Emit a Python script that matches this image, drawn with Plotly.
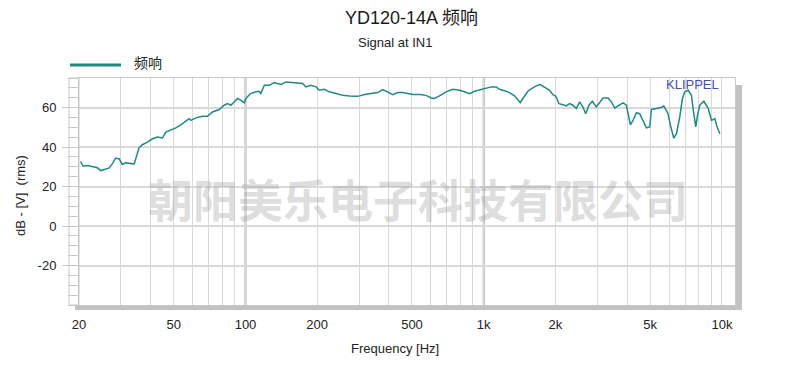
import math
import plotly.graph_objects as go

# ---- data ----
freq_hz = [20.3, 20.8, 21.7, 22.7, 23.9, 24.7, 25.9, 26.7, 27.6, 28.5,
           29.5, 30.4, 31.4, 32.4, 33.5, 34.1, 35.7, 36.9, 38.7, 40.7,
           42.7, 44.8, 46.3, 48.6, 51.0, 53.5, 56.2, 58.0, 59.0, 61.9,
           66.0, 69.2, 72.7, 77.5, 81.4, 84.0, 86.8, 89.7, 92.6, 95.7,
           98.8, 100.4, 105, 111, 114, 116, 120, 126, 132, 136,
           141, 148, 155, 163, 174, 179, 188, 198, 204, 214,
           225, 240, 256, 273, 296, 316, 337, 359, 377, 395,
           415, 436, 457, 480, 504, 537, 573, 602, 621, 652,
           696, 742, 791, 830, 872, 915, 976, 1025, 1075, 1129,
           1165, 1223, 1284, 1347, 1391, 1424, 1460, 1533, 1608, 1662,
           1728, 1801, 1891, 1952, 2004, 2029, 2069, 2151, 2222, 2294,
           2369, 2448, 2528, 2610, 2679, 2766, 2858, 2970, 3068, 3168,
           3325, 3436, 3548, 3698, 3844, 3972, 4034, 4128, 4234, 4375,
           4518, 4666, 4822, 4977, 5060, 5311, 5574, 5698, 5942, 6081,
           6279, 6445, 6654, 6830, 6984, 7211, 7453, 7568, 7768, 7898,
           8075, 8395, 8750, 9044, 9340, 9548, 9802]

level_db = [32.7, 30.3, 30.7, 30.1, 29.5, 28.1, 29.0, 29.3, 31.5, 34.4,
            34.0, 31.2, 32.0, 31.9, 31.9, 31.5, 39.5, 41.2, 42.5, 44.2,
            45.1, 44.6, 47.6, 48.5, 49.7, 51.3, 53.0, 54.4, 53.5, 54.8,
            55.6, 55.6, 57.8, 59.0, 61.2, 62.0, 61.2, 62.9, 64.6, 63.7,
            62.4, 64.6, 67.1, 68.0, 68.3, 67.1, 71.3, 71.3, 72.7, 72.2,
            71.7, 73.0, 72.7, 72.7, 72.2, 70.5, 71.3, 70.5, 68.8, 69.3,
            68.0, 67.1, 66.2, 65.9, 65.7, 66.6, 67.3, 67.6, 69.1, 68.0,
            66.6, 67.6, 67.6, 67.1, 66.6, 66.6, 66.2, 64.9, 64.6, 65.9,
            68.0, 69.3, 68.8, 68.0, 67.1, 68.3, 69.1, 70.0, 70.5, 70.5,
            69.3, 68.5, 67.6, 66.0, 63.7, 62.5, 64.6, 68.3, 70.0, 71.0,
            71.7, 70.5, 68.8, 66.6, 65.9, 64.6, 62.0, 61.5, 60.9, 62.0,
            61.2, 59.5, 62.9, 60.3, 56.9, 61.2, 63.2, 60.3, 62.9, 64.9,
            64.9, 62.9, 59.8, 61.2, 62.4, 61.2, 57.8, 51.3, 53.5, 57.4,
            56.9, 53.5, 49.7, 50.2, 59.1, 59.5, 60.0, 60.9, 56.9, 51.0,
            44.6, 46.8, 55.3, 64.6, 68.0, 68.8, 66.2, 59.5, 50.2, 56.1,
            61.2, 63.2, 59.8, 53.5, 54.4, 50.2, 46.8]

x_tick_vals = [20, 50, 100, 200, 500, 1000, 2000, 5000, 10000]
x_tick_text = ["20", "50", "100", "200", "500", "1k", "2k", "5k", "10k"]
x_minor_vals = [30, 40, 60, 70, 80, 90, 300, 400, 600, 700, 800, 900,
                3000, 4000, 6000, 7000, 8000, 9000]
x_decade_vals = [100, 1000]
y_tick_vals = [-20, 0, 20, 40, 60]
y_tick_text = ["-20", "0", "20", "40", "60"]

series_name = "频响"
title_text = "YD120-14A 频响"
subtitle_text = "Signal at IN1"
watermark_text = "朝阳美乐电子科技有限公司"

# ---- layout geometry (pixels) ----
W, H = 790, 390
L, R, T, B = 79, 55, 78, 85
PW, PH = W - L - R, H - T - B


def px(x):
    return (x - L) / PW


def py(y):
    return (H - B - y) / PH


FONT = "Liberation Sans, Arial, Noto Sans CJK SC, sans-serif"
GRID = "#d9d9d9"
FRAME = "#c8c8c8"
TEAL = "#1f8a82"

fig = go.Figure()
fig.add_trace(go.Scatter(x=freq_hz, y=level_db, mode="lines", name=series_name,
                         line=dict(color=TEAL, width=1.5), showlegend=False))

shapes = []
for v in x_decade_vals:
    shapes.append(dict(type="line", xref="x", yref="paper", x0=v, x1=v, y0=0, y1=1,
                       line=dict(color="#ababab", width=2), layer="below"))
# left tick strip
shapes.append(dict(type="rect", xref="paper", yref="paper", x0=px(69), x1=px(79),
                   y0=py(305), y1=py(78), line=dict(color=FRAME, width=1)))
# drop shadow right & bottom
shapes.append(dict(type="rect", xref="paper", yref="paper", x0=px(736), x1=px(742),
                   y0=py(310), y1=py(85), fillcolor="#c2c2c2", line=dict(width=0)))
shapes.append(dict(type="rect", xref="paper", yref="paper", x0=px(75), x1=px(742),
                   y0=py(310), y1=py(306), fillcolor="#c2c2c2", line=dict(width=0)))
# legend sample line
shapes.append(dict(type="line", xref="paper", yref="paper", x0=px(70), x1=px(121),
                   y0=py(65), y1=py(65), line=dict(color=TEAL, width=3)))


def ann(text, x, y, size, color="#222", family=FONT, **kw):
    d = dict(text=text, x=px(x), y=py(y), xref="paper", yref="paper",
             xanchor="center", yanchor="middle", showarrow=False,
             font=dict(family=family, size=size, color=color))
    d.update(kw)
    return d


annotations = [
    ann(title_text, 411, 18, 18, color="#1a1a1a"),
    ann(subtitle_text, 395, 43, 13),
    ann(series_name, 132, 63, 14, xanchor="left"),
    ann(watermark_text, 418, 198, 45, color="rgba(150,150,150,0.33)",
        family="Noto Sans CJK SC"),
    ann("KLIPPEL", 692, 84, 13, color="#4b4bab"),
    ann("Frequency [Hz]", 395, 348, 13),
    ann("dB - [V] \u00a0(rms)", 20, 196, 13, textangle=-90),
]
annotations[3]["font"]["weight"] = "bold"

fig.update_layout(
    width=W, height=H,
    margin=dict(l=L, r=R, t=T, b=B, autoexpand=False),
    paper_bgcolor="white", plot_bgcolor="white",
    font=dict(family=FONT, size=13, color="#222"),
    shapes=shapes, annotations=annotations,
    xaxis=dict(type="log", range=[math.log10(20), math.log10(11350)],
               tickmode="array", tickvals=x_tick_vals, ticktext=x_tick_text,
               showgrid=True, gridcolor=GRID, gridwidth=1,
               minor=dict(tickmode="array", tickvals=x_minor_vals, showgrid=True,
                          gridcolor=GRID, gridwidth=1),
               showline=True, linecolor=FRAME, linewidth=1, mirror=True,
               ticks="", zeroline=False, ticklabelstandoff=7, automargin=False,
               tickfont=dict(size=13, color="#222")),
    yaxis=dict(range=[-40, 75], tickmode="array", tickvals=y_tick_vals,
               ticktext=y_tick_text,
               ticks="outside", ticklen=16, tickcolor=FRAME, tickwidth=1,
               minor=dict(dtick=5, ticks="outside", ticklen=10, tickcolor=FRAME,
                          showgrid=False),
               showgrid=True, gridcolor=GRID, gridwidth=1.5,
               showline=True, linecolor=FRAME, linewidth=1, mirror=True,
               zeroline=False, ticklabelstandoff=3, automargin=False,
               tickfont=dict(size=13, color="#222")),
)

fig.write_html("out.html", config={"displayModeBar": False},
               post_script="document.body.style.margin='0';")
